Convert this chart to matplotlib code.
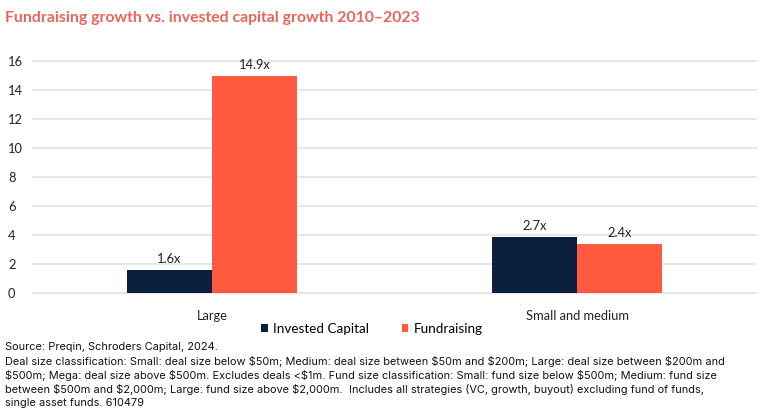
import numpy as np
import matplotlib
matplotlib.use('Agg')
import matplotlib.pyplot as plt

plt.rcParams['font.family'] = ['Lato', 'DejaVu Sans']
plt.rcParams['text.parse_math'] = False

# data
categories = ['Large', 'Small and medium']
series_names = ['Invested Capital', 'Fundraising']
invested = [1.6, 3.85]
fundraising = [14.95, 3.4]
invested_labels = ['1.6x', '2.7x']
fundraising_labels = ['14.9x', '2.4x']
yticks = [0, 2, 4, 6, 8, 10, 12, 14, 16]

navy = '#0c1f3f'
orange = '#ff5a40'
title_col = '#e8655a'

fig = plt.figure(figsize=(7.64, 4.17), dpi=100)
ax = fig.add_axes([0.0419, 0.2957, 0.9489, 0.5597])

x = np.arange(len(categories))
w = 0.233
b1 = ax.bar(x - w / 2, invested, w, color=navy, label=series_names[0])
b2 = ax.bar(x + w / 2, fundraising, w, color=orange, label=series_names[1])

for bars, labs in ((b1, invested_labels), (b2, fundraising_labels)):
    for r, t in zip(bars, labs):
        ax.annotate(t, (r.get_x() + r.get_width() / 2, r.get_height()),
                    xytext=(0, 3.5), textcoords='offset points',
                    ha='center', va='bottom', fontsize=9.3, color='#222222')

ax.set_xlim(-0.493, 1.493)
ax.set_ylim(-0.05, 16.05)
ax.set_yticks(yticks)
ax.set_xticks(x)
ax.set_xticklabels(categories, fontsize=9.3, color='#222222')
ax.tick_params(axis='x', length=0, pad=12)
ax.tick_params(axis='y', length=0, pad=17.3, labelsize=9.3, labelcolor='#222222')
for lab in ax.get_yticklabels():
    lab.set_horizontalalignment('left')
ax.grid(axis='y', color='#e3e3e3', linewidth=1.2)
ax.set_axisbelow(True)
for s in ax.spines.values():
    s.set_visible(False)

fig.legend(handles=[b1, b2], loc='center', bbox_to_anchor=(0.487, 0.211), ncol=2,
           frameon=False, fontsize=9.7, handlelength=0.5, handleheight=0.55,
           handletextpad=0.4, columnspacing=2.4)

fig.text(0.007, 0.958, 'Fundraising growth vs. invested capital growth 2010\u20132023',
         fontsize=11.3, fontweight='bold', color=title_col, va='center')

notes = ('Source: Preqin, Schroders Capital, 2024.\n'
         'Deal size classification: Small: deal size below $50m; Medium: deal size between $50m and $200m; Large: deal size between $200m and\n'
         '$500m; Mega: deal size above $500m. Excludes deals <$1m. Fund size classification: Small: fund size below $500m; Medium: fund size\n'
         'between $500m and $2,000m; Large: fund size above $2,000m.  Includes all strategies (VC, growth, buyout) excluding fund of funds,\n'
         'single asset funds. 610479')
fig.text(0.007, 0.179, notes, fontsize=7.9, family=['Inter', 'DejaVu Sans'],
         color='#111111', va='top', linespacing=1.36)

fig.savefig('out.png', dpi=100)
